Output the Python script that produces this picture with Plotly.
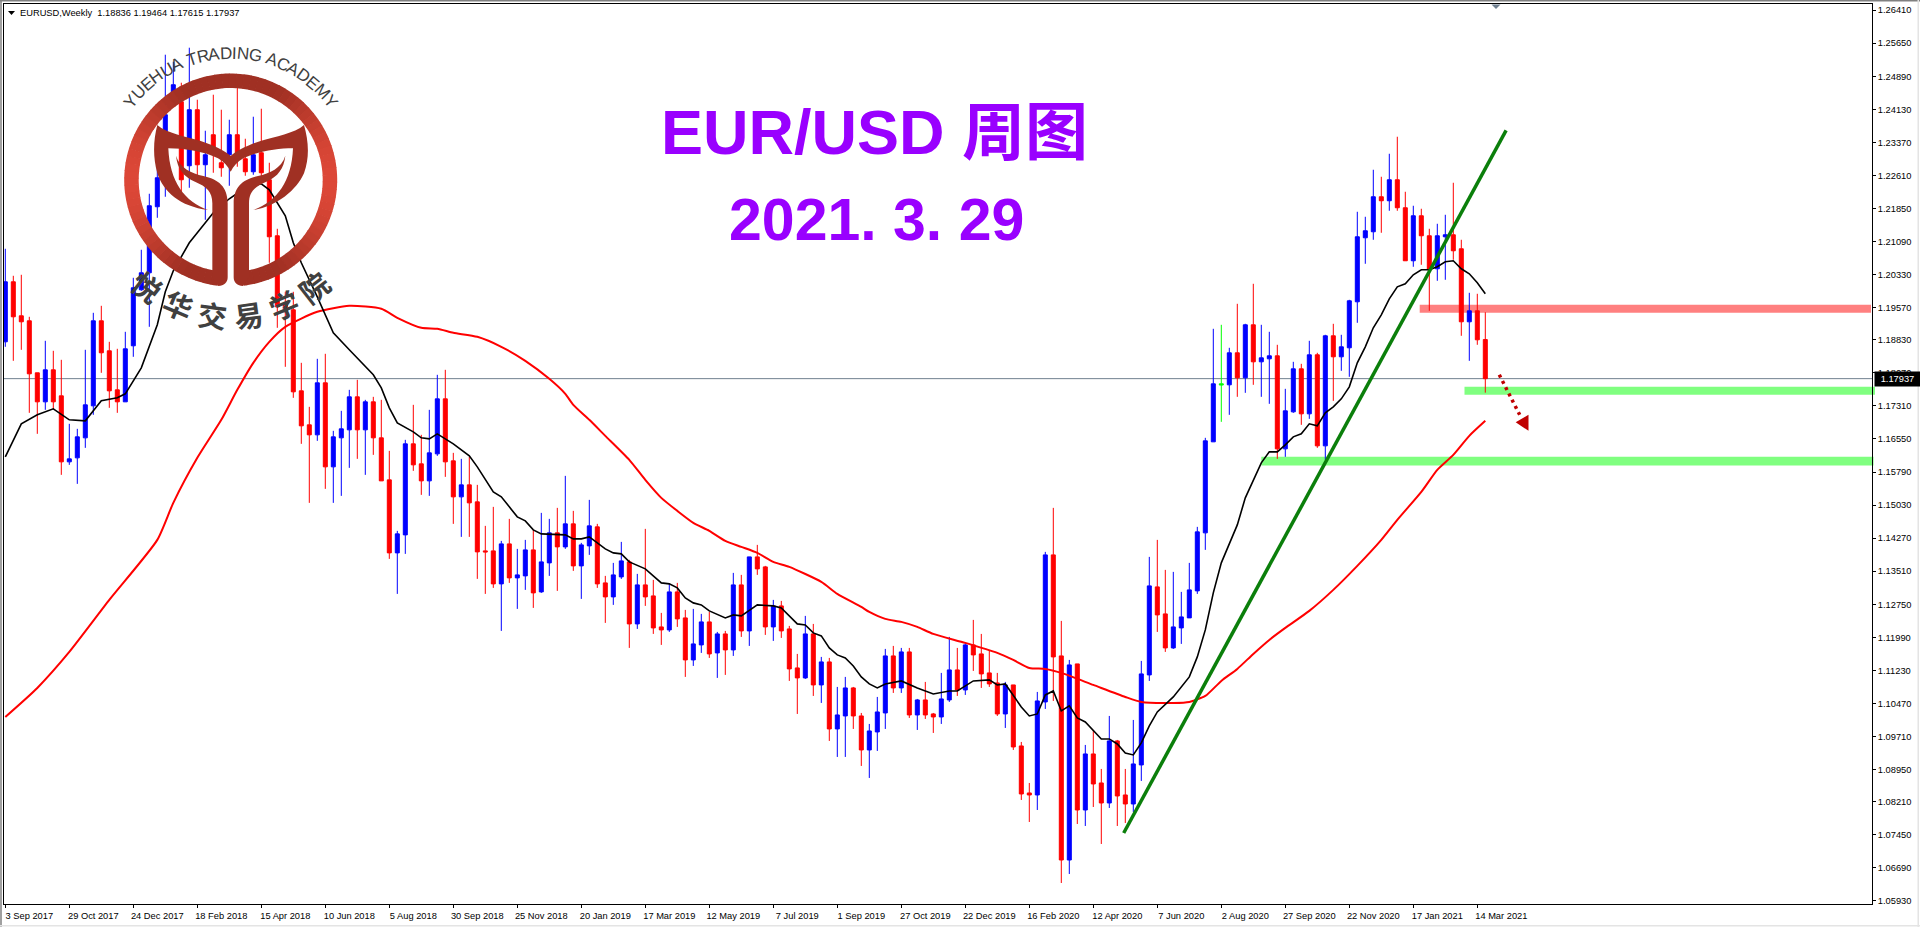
import math
import plotly.graph_objects as go

tick_dates = ["3 Sep 2017","29 Oct 2017","24 Dec 2017","18 Feb 2018","15 Apr 2018","10 Jun 2018","5 Aug 2018","30 Sep 2018",
              "25 Nov 2018","20 Jan 2019","17 Mar 2019","12 May 2019","7 Jul 2019","1 Sep 2019","27 Oct 2019","22 Dec 2019",
              "16 Feb 2020","12 Apr 2020","7 Jun 2020","2 Aug 2020","27 Sep 2020","22 Nov 2020","17 Jan 2021","14 Mar 2021"]
tick_prices = [1.26410,1.25650,1.24890,1.24130,1.23370,1.22610,1.21850,1.21090,1.20330,1.19570,1.18830,1.18070,1.17310,1.16550,
               1.15790,1.15030,1.14270,1.13510,1.12750,1.11990,1.11230,1.10470,1.09710,1.08950,1.08210,1.07450,1.06690,1.05930]

opens = [1.18784,1.20164,1.19382,1.19267,1.18071,1.17404,1.18140,1.17542,1.16024,1.16116,
 1.16576,1.17312,1.19267,1.18577,1.17680,1.17404,1.18692,1.19980,1.20371,1.21889,
 1.22556,1.24396,1.24304,1.22832,1.24120,1.22855,1.23545,1.22901,1.23085,1.23545,
 1.22993,1.22694,1.23131,1.22510,1.21222,1.19635,1.19520,1.17657,1.16875,1.16645,
 1.17841,1.15909,1.16576,1.16760,1.17519,1.16760,1.17404,1.16576,1.15610,1.13931,
 1.14345,1.16438,1.15978,1.15587,1.16208,1.17473,1.16047,1.15219,1.15495,1.15104,
 1.13977,1.13977,1.13218,1.14138,1.13356,1.13402,1.14000,1.13034,1.13701,1.14391,
 1.14069,1.14598,1.13632,1.14092,1.14529,1.13241,1.12919,1.13379,1.13724,1.12298,
 1.13195,1.12942,1.12229,1.12160,1.13034,1.12436,1.11470,1.11815,1.12344,1.11631,
 1.12068,1.11700,1.13195,1.12137,1.13839,1.13609,1.12229,1.12712,1.12183,1.11286,
 1.11056,1.12068,1.10895,1.11424,1.09883,1.10182,1.10826,1.10182,1.09400,1.09814,
 1.10251,1.11562,1.10826,1.11654,1.10205,1.10550,1.10228,1.10159,1.10550,1.11240,
 1.10780,1.11815,1.11608,1.11171,1.10941,1.10228,1.10895,1.09492,1.08411,1.08365,
 1.10504,1.13885,1.11562,1.06870,1.11378,1.08020,1.09308,1.08641,1.08181,1.09607,
 1.08365,1.08158,1.09055,1.11125,1.13149,1.12528,1.11746,1.12206,1.12436,1.13057,
 1.14391,1.16484,1.17818,1.17795,1.18531,1.17956,1.19175,1.18324,1.18393,1.18462,
 1.16323,1.17174,1.18163,1.17128,1.18485,1.16392,1.18922,1.18439,1.18646,1.19704,
 1.21176,1.21314,1.22119,1.22027,1.22510,1.21866,1.20647,1.21682,1.21222,1.20463,
 1.21199,1.21245,1.20923,1.19244,1.19497,1.18836]
highs = [1.20923,1.20302,1.20325,1.19359,1.18071,1.18807,1.18577,1.18370,1.16898,1.16783,
 1.18600,1.19451,1.19612,1.18784,1.18623,1.19014,1.20256,1.20900,1.22188,1.22786,
 1.25385,1.25224,1.24741,1.25546,1.24350,1.23637,1.24465,1.24120,1.23890,1.24626,
 1.23453,1.23959,1.24143,1.22901,1.21383,1.19934,1.19934,1.18301,1.17289,1.18393,
 1.18508,1.16737,1.17197,1.17680,1.17910,1.17450,1.17519,1.17450,1.16277,1.14437,
 1.16530,1.17335,1.16645,1.17220,1.18025,1.18140,1.16231,1.16093,1.16139,1.15495,
 1.14552,1.14989,1.14207,1.14713,1.14023,1.14230,1.14460,1.14851,1.14713,1.14966,
 1.15702,1.14897,1.14161,1.15150,1.14598,1.13402,1.13701,1.14184,1.13770,1.13448,
 1.14483,1.13310,1.12551,1.13218,1.13241,1.12620,1.12643,1.12528,1.12574,1.12114,
 1.12137,1.13471,1.13425,1.13839,1.14115,1.13632,1.12850,1.12827,1.12252,1.11608,
 1.12482,1.12298,1.11539,1.11516,1.10849,1.11079,1.10849,1.10251,1.09998,1.10619,
 1.11723,1.11792,1.11746,1.11746,1.10573,1.10964,1.10251,1.11171,1.11999,1.11746,
 1.11861,1.12390,1.12068,1.11700,1.11171,1.10964,1.10895,1.09584,1.08641,1.10734,
 1.13954,1.14966,1.12367,1.11470,1.11378,1.09515,1.09860,1.08963,1.10182,1.09630,
 1.08963,1.10090,1.11447,1.13839,1.14230,1.13540,1.13494,1.13034,1.13701,1.14529,
 1.16576,1.19083,1.19175,1.18646,1.19658,1.19198,1.20118,1.19175,1.19014,1.18715,
 1.17703,1.18324,1.18278,1.18807,1.18531,1.18945,1.19198,1.18945,1.19750,1.21774,
 1.21659,1.22740,1.22579,1.23108,1.23499,1.22234,1.21912,1.21843,1.21383,1.21498,
 1.21705,1.22441,1.21130,1.19911,1.19888,1.19464]
lows = [1.18669,1.18347,1.18600,1.17151,1.16668,1.17220,1.17220,1.15725,1.15955,1.15518,
 1.16346,1.17105,1.18071,1.17266,1.17151,1.17404,1.18439,1.19957,1.19129,1.21636,
 1.22119,1.24350,1.22211,1.22326,1.22510,1.21590,1.22671,1.22579,1.22372,1.22809,
 1.22602,1.22625,1.22464,1.20601,1.19106,1.18209,1.17496,1.16438,1.15081,1.16507,
 1.15403,1.15081,1.15242,1.15886,1.16093,1.15725,1.16185,1.15587,1.13793,1.12988,
 1.13908,1.15817,1.15265,1.15242,1.16162,1.15679,1.14598,1.14299,1.14299,1.13333,
 1.12988,1.13126,1.12137,1.13241,1.12643,1.13080,1.12666,1.13011,1.13402,1.13057,
 1.14023,1.13517,1.12873,1.13885,1.13126,1.12321,1.12735,1.13333,1.11746,1.12183,
 1.12712,1.12068,1.11815,1.12114,1.12229,1.11079,1.11332,1.11631,1.11516,1.11056,
 1.11125,1.11562,1.11999,1.11792,1.13425,1.12045,1.11907,1.11976,1.10987,1.10228,
 1.11033,1.10642,1.10481,1.09607,1.09239,1.09239,1.09883,1.09032,1.08756,1.09377,
 1.09883,1.10711,1.10711,1.10136,1.09860,1.10113,1.09791,1.09998,1.10504,1.10642,
 1.10665,1.11217,1.10826,1.10849,1.10182,1.09906,1.09400,1.08250,1.07744,1.08020,
 1.10343,1.10527,1.06341,1.06548,1.07698,1.07652,1.08089,1.07238,1.08066,1.07652,
 1.07721,1.07974,1.08687,1.10987,1.12114,1.11654,1.11723,1.11838,1.12436,1.12988,
 1.14000,1.16484,1.16944,1.17105,1.17519,1.17611,1.17795,1.17519,1.17358,1.16093,
 1.16139,1.17151,1.16875,1.17013,1.16346,1.16070,1.17427,1.18117,1.17979,1.19221,
 1.20578,1.21130,1.21291,1.21797,1.21797,1.20647,1.20509,1.20555,1.19497,1.20187,
 1.20210,1.20670,1.18922,1.18347,1.18715,1.17615]
closes = [1.20164,1.19359,1.19244,1.18048,1.17404,1.18140,1.17404,1.16024,1.16093,1.16599,
 1.17335,1.19267,1.18531,1.17657,1.17404,1.18623,1.20026,1.20371,1.21912,1.22556,
 1.24005,1.24695,1.22510,1.24120,1.22855,1.23085,1.23200,1.22786,1.23545,1.23039,
 1.22694,1.23085,1.22671,1.21199,1.19589,1.19474,1.17634,1.16852,1.16645,1.17841,
 1.15909,1.16599,1.16783,1.17519,1.16760,1.17404,1.16576,1.15587,1.13931,1.14368,
 1.16438,1.15955,1.15587,1.16231,1.17473,1.16024,1.15219,1.15495,1.15081,1.13954,
 1.13954,1.13218,1.14138,1.13356,1.13425,1.14000,1.13011,1.13724,1.14391,1.14069,
 1.14598,1.13632,1.14115,1.14552,1.13218,1.12919,1.13425,1.13747,1.12298,1.13195,
 1.12919,1.12206,1.12160,1.13034,1.12413,1.11470,1.11838,1.12344,1.11608,1.12068,
 1.11700,1.13195,1.12137,1.13839,1.13563,1.12229,1.12712,1.12137,1.11263,1.11056,
 1.12068,1.10895,1.11424,1.09883,1.10205,1.10826,1.10182,1.09400,1.09837,1.10274,
 1.11562,1.10826,1.11654,1.10205,1.10550,1.10205,1.10159,1.10573,1.11240,1.10780,
 1.11815,1.11585,1.11148,1.10918,1.10228,1.10895,1.09469,1.08388,1.08365,1.10527,
 1.13885,1.11539,1.06870,1.11355,1.08020,1.09308,1.08618,1.08181,1.09607,1.08342,
 1.08158,1.09078,1.11148,1.13172,1.12505,1.11746,1.12229,1.12459,1.13080,1.14414,
 1.16507,1.17818,1.17795,1.18531,1.17956,1.19175,1.18324,1.18416,1.18462,1.16323,
 1.17197,1.18163,1.17128,1.18485,1.16392,1.18922,1.18439,1.18669,1.19727,1.21199,
 1.21337,1.22119,1.22027,1.22510,1.21866,1.20647,1.21682,1.21222,1.20440,1.21222,
 1.21245,1.20877,1.19244,1.19497,1.18830,1.17937]

doji_index = 152   # drawn lime, as the platform does for open == close bars

ma_fast_x = [0,2,4,6,8,10,12,14,15,17,19,20,21,23,26,28,30,32,33,35,36,37,39,41,43,45,46,47,48,49,51,52,53,54,56,58,59,61,62,63,64,65,66,67,70,71,72,73,74,75,76,77,78,80,82,83,84,85,86,87,88,90,91,92,94,96,97,99,100,101,102,103,104,105,106,107,108,109,110,112,114,116,118,119,121,123,124,125,127,128,129,130,131,132,133,134,135,137,138,139,140,141,142,143,144,146,148,149,150,151,152,153,154,155,156,157,158,159,160,161,162,163,164,165,166,167,168,169,170,171,172,173,174,175,176,177,178,179,180,181,182,183,184,185]
ma_fast_y = [1.16139,1.16898,1.17105,1.17243,1.16990,1.16967,1.17427,1.17496,1.17588,1.18186,1.19175,1.19934,1.20417,1.21061,1.21751,1.22073,1.22326,1.22418,1.22280,1.21682,1.21061,1.20601,1.19819,1.18991,1.18600,1.18209,1.18025,1.17726,1.17266,1.16921,1.16714,1.16576,1.16553,1.16668,1.16438,1.16162,1.15909,1.15334,1.15219,1.14989,1.14759,1.14667,1.14460,1.14368,1.14345,1.14253,1.14253,1.14299,1.14161,1.14023,1.13931,1.13908,1.13724,1.13563,1.13241,1.13218,1.13126,1.12896,1.12781,1.12735,1.12597,1.12436,1.12505,1.12482,1.12735,1.12712,1.12666,1.12298,1.12275,1.12091,1.12022,1.11746,1.11585,1.11516,1.11332,1.11079,1.10918,1.10826,1.10918,1.10987,1.10826,1.10688,1.10757,1.10757,1.10987,1.11010,1.10895,1.10918,1.10389,1.10182,1.10228,1.10665,1.10757,1.10297,1.10412,1.10136,1.10044,1.09653,1.09653,1.09538,1.09331,1.09285,1.09561,1.09952,1.10274,1.10619,1.11079,1.11539,1.12160,1.13011,1.13701,1.14161,1.14575,1.15196,1.15610,1.16001,1.16254,1.16254,1.16415,1.16599,1.16668,1.16898,1.16852,1.17151,1.17289,1.17473,1.17749,1.18301,1.18669,1.19106,1.19405,1.19773,1.20049,1.20118,1.20325,1.20440,1.20440,1.20509,1.20624,1.20647,1.20463,1.20348,1.20141,1.19888]

ma_slow_x = [0,4,8,13,19,21,24,27,29,31,33,35,39,43,47,49,52,54,56,59,62,65,68,70,71,73,75,78,80,82,84,86,88,90,92,94,96,98,102,104,107,108,110,112,114,116,120,124,126,128,130,132,136,140,142,146,148,150,152,154,156,158,160,163,166,169,172,174,177,179,181,183,185]
ma_slow_y = [1.10159,1.10826,1.11654,1.12850,1.14230,1.15081,1.16116,1.16990,1.17680,1.18301,1.18784,1.19129,1.19474,1.19612,1.19543,1.19336,1.19106,1.19083,1.18991,1.18899,1.18669,1.18347,1.17933,1.17588,1.17335,1.16990,1.16622,1.16070,1.15610,1.15196,1.14897,1.14621,1.14437,1.14207,1.14069,1.13931,1.13724,1.13609,1.13264,1.12988,1.12689,1.12574,1.12413,1.12344,1.12229,1.12068,1.11861,1.11631,1.11470,1.11286,1.11263,1.11171,1.10895,1.10619,1.10504,1.10481,1.10504,1.10642,1.10987,1.11263,1.11608,1.11930,1.12206,1.12597,1.13080,1.13632,1.14230,1.14690,1.15334,1.15840,1.16185,1.16622,1.16967]

trend_x = [139.8, 187.6]
trend_y = [1.07491, 1.23644]
arrow_x = [186.75, 189.3]
arrow_y = [1.18025, 1.17105]
arrow_head_x = [188.8, 190.4, 190.4, 188.8]
arrow_head_y = [1.16937, 1.17105, 1.16737, 1.16937]
resistance_band = (176.8, 1.19635, 1.19451)
support_band_upper = (182.4, 1.17749, 1.17565)
support_band_lower = (157.0, 1.16139, 1.15940)

title_line1 = "EUR/USD 周图"
title_line2 = "2021. 3. 29"
header = "EURUSD,Weekly  1.18836 1.19464 1.17615 1.17937"
logo_en = "YUEHUA TRADING ACADEMY"
logo_cn = "悦华交易学院"

W, H = 1920, 927
L, R, T, B = 4, 1872, 4, 904
def fx(px): return (px - L) / (R - L)
def fy(py): return 1 - (py - T) / (B - T)

idx = list(range(len(opens)))
keep = [i for i in idx if i != doji_index]
fig = go.Figure()
fig.add_trace(go.Candlestick(
    x=keep, open=[opens[i] for i in keep], high=[highs[i] for i in keep],
    low=[lows[i] for i in keep], close=[closes[i] for i in keep],
    whiskerwidth=0,
    increasing=dict(line=dict(color="#0000FF", width=1), fillcolor="#0000FF"),
    decreasing=dict(line=dict(color="#FF0000", width=1), fillcolor="#FF0000"),
    showlegend=False, hoverinfo="skip"))
fig.add_trace(go.Candlestick(
    x=[doji_index], open=[opens[doji_index]], high=[highs[doji_index]],
    low=[lows[doji_index]], close=[closes[doji_index]], whiskerwidth=0,
    increasing=dict(line=dict(color="#00FF00", width=1), fillcolor="#00FF00"),
    decreasing=dict(line=dict(color="#00FF00", width=1), fillcolor="#00FF00"),
    showlegend=False, hoverinfo="skip"))
fig.add_trace(go.Scatter(x=ma_slow_x, y=ma_slow_y, mode="lines", line=dict(color="#FF0000", width=2, shape="spline", smoothing=0.6), showlegend=False, hoverinfo="skip"))
fig.add_trace(go.Scatter(x=ma_fast_x, y=ma_fast_y, mode="lines", line=dict(color="#000000", width=1.6), showlegend=False, hoverinfo="skip"))
fig.add_trace(go.Scatter(x=trend_x, y=trend_y, mode="lines", line=dict(color="#0B7F0B", width=3.5), showlegend=False, hoverinfo="skip"))
fig.add_trace(go.Scatter(x=arrow_x, y=arrow_y, mode="lines", line=dict(color="#C00000", width=3.5, dash="3px,4px"), showlegend=False, hoverinfo="skip"))
fig.add_trace(go.Scatter(x=arrow_head_x, y=arrow_head_y, mode="lines", fill="toself", fillcolor="#C00000", line=dict(color="#C00000", width=0), showlegend=False, hoverinfo="skip"))

shapes = []
def nx(n): return fx(5.3 + 8 * n)
for band, col, right in [(resistance_band, "#FF8080", 1871), (support_band_upper, "#80FF80", 1875), (support_band_lower, "#80FF80", 1873.5)]:
    shapes.append(dict(type="rect", xref="paper", yref="y", x0=nx(band[0]), x1=fx(right), y0=band[2], y1=band[1],
                       fillcolor=col, line=dict(width=0), layer="below"))
shapes.append(dict(type="line", xref="paper", yref="y", x0=0, x1=1, y0=closes[-1], y1=closes[-1],
                   line=dict(color="#708090", width=1), layer="below"))

# window chrome
for x0, y0, x1, y1, c in [(0, 0, 2, 927, "#A0A0A0"), (0, 0, 1920, 1.5, "#808080"), (1917.5, 0, 1919, 927, "#E4E4E4"), (0, 925, 1920, 926.5, "#E4E4E4")]:
    shapes.append(dict(type="rect", xref="paper", yref="paper", x0=fx(x0), x1=fx(x1), y0=fy(y0), y1=fy(y1), fillcolor=c, line=dict(width=0), layer="above"))
# platform markers
def poly(pts):
    return "M " + " L ".join(f"{fx(a):.5f},{fy(b):.5f}" for a, b in pts) + " Z"
shapes.append(dict(type="path", xref="paper", yref="paper", path=poly([(8, 11), (15, 11), (11.5, 15)]), fillcolor="#000000", line=dict(width=0), layer="above"))
shapes.append(dict(type="path", xref="paper", yref="paper", path=poly([(1491.5, 4.5), (1500.5, 4.5), (1496, 9)]), fillcolor="#708090", line=dict(width=0), layer="above"))

# logo ring: sectors measured clockwise from the bottom, leaving the gap between the stems
CX, CY, RO, RI = 230.7, 180.0, 106.5, 92.0
base, edge = (160, 48, 35), (220, 71, 55)
step = 4
for a in range(7, 353, step):
    t0, t1 = math.radians(a), math.radians(min(a + step + 0.4, 353))
    pts = []
    for th, r in [(t0, RO), ((t0 + t1) / 2, RO), (t1, RO), (t1, RI), ((t0 + t1) / 2, RI), (t0, RI)]:
        pts.append((CX - r * math.sin(th), CY + r * math.cos(th)))
    mid = (t0 + t1) / 2
    t = abs(math.sin(mid))
    f = max(0.0, (t - 0.45) / 0.55) ** 1.3
    col = tuple(round(base[i] + (edge[i] - base[i]) * f) for i in range(3))
    shapes.append(dict(type="path", xref="paper", yref="paper", path=poly(pts), fillcolor=f"rgb{col}", line=dict(width=0), layer="above"))

def zp(x, y, mirror=False):
    if mirror:
        x = 784 - x
    return f"{fx(100 + x / 3):.5f},{fy(40 + y / 3):.5f}"
def curve(cmds, mirror=False):
    out = []
    for c in cmds:
        out.append(c[0] + " " + " ".join(zp(c[i], c[i + 1], mirror) for i in range(1, len(c), 2)))
    return " ".join(out) + " Z"

wing = [("M",172,255),("C",200,280,260,290,300,302),("C",340,315,375,332,392,348),("C",409,332,444,315,484,302),
        ("C",524,290,584,280,612,255),("C",625,300,630,350,612,400),("C",590,450,530,500,460,510),
        ("C",530,485,575,425,579,325),("C",530,325,470,335,430,355),("C",412,365,400,380,392,395),
        ("C",384,380,372,365,354,355),("C",314,335,254,325,205,325),("C",209,425,254,485,324,510),
        ("C",240,500,190,455,172,400),("C",158,350,160,300,172,255)]
stem = [("M",228,347),("C",240,385,275,400,310,408),("C",355,418,383,440,383,490),("L",383,712),
        ("C",383,728,372,738,355,738),("L",337,712),("L",337,490),("C",337,455,320,440,285,425),("C",250,410,232,385,228,347)]
logo_col = "rgb(160,48,35)"
shapes.append(dict(type="path", xref="paper", yref="paper", path=curve(wing), fillcolor=logo_col, line=dict(width=0), layer="above"))
shapes.append(dict(type="path", xref="paper", yref="paper", path=curve(stem), fillcolor=logo_col, line=dict(width=0), layer="above"))
shapes.append(dict(type="path", xref="paper", yref="paper", path=curve(stem, True), fillcolor=logo_col, line=dict(width=0), layer="above"))

ann = []
def text(px, py, s, size, color, family="Liberation Sans", angle=0, anchor="center", bold=False):
    if bold:
        s = f"<b>{s}</b>"
    ann.append(dict(xref="paper", yref="paper", x=fx(px), y=fy(py), text=s, showarrow=False, xanchor=anchor, yanchor="middle",
                    textangle=angle, font=dict(size=size, color=color, family=family), borderpad=0, borderwidth=0))

text(874, 132, title_line1, 63, "#9900FF", "Liberation Sans, Noto Sans CJK SC", bold=True)
text(876, 220, title_line2, 59, "#9900FF", "Liberation Sans", bold=True)
text(20, 12.5, header.replace("  ", "&nbsp;&nbsp;"), 9.3, "#000000", anchor="left")

w = dict(zip("YUEHA TRDINGCM", [.667,.722,.667,.722,.667,.278,.611,.722,.722,.278,.722,.778,.722,.833]))
size_en = 17
R_EN = 127.0
widths = [w[c] * size_en for c in logo_en]
total = sum(widths)
pos = 0.0
for c, wd in zip(logo_en, widths):
    th = (pos + wd / 2 - total / 2) / R_EN
    pos += wd
    if c != " ":
        text(CX + R_EN * math.sin(th), CY - R_EN * math.cos(th), c, size_en, "#404040", angle=math.degrees(th))
for i, c in enumerate(logo_cn):
    a = 38 - 15.2 * i
    th = math.radians(a)
    text(CX - 135 * math.sin(th), CY + 135 * math.cos(th), c, 29, "#404040", "Noto Sans CJK SC", angle=a, bold=True)

ann.append(dict(xref="paper", yref="y", x=1, y=closes[-1], xshift=2, xanchor="left", yanchor="middle", text=f"{closes[-1]:.5f}",
                showarrow=False, bgcolor="#000000", font=dict(size=9.3, color="#FFFFFF", family="Liberation Sans"), borderpad=2, width=41, align="center"))

fig.update_layout(
    width=W, height=H, margin=dict(l=L, r=W - R, t=T, b=H - B), paper_bgcolor="#FFFFFF", plot_bgcolor="#FFFFFF",
    showlegend=False, boxgap=0.5, boxgroupgap=0, boxmode="overlay", shapes=shapes, annotations=ann,
    xaxis=dict(range=[(L - 5.3) / 8, (R - 5.3) / 8], rangeslider=dict(visible=False), showgrid=False, zeroline=False,
               tickvals=[8 * i for i in range(len(tick_dates))], ticktext=tick_dates, ticks="outside", ticklen=3, tickwidth=1,
               tickcolor="#000000", showline=True, linecolor="#000000", linewidth=1, mirror=True, ticklabelshift=24,
               tickfont=dict(size=9.3, color="#000000", family="Liberation Sans"), tickangle=0),
    yaxis=dict(range=[1.05858, 1.26551], side="right", showgrid=False, zeroline=False, tickvals=tick_prices,
               ticktext=[f"{p:.5f}" for p in tick_prices], ticks="outside", ticklen=3, tickwidth=1, tickcolor="#000000",
               showline=True, linecolor="#000000", linewidth=1, mirror=True,
               tickfont=dict(size=9.3, color="#000000", family="Liberation Sans")),
)
fig.write_html("out.html", config={"displayModeBar": False},
               post_script="document.body.style.margin='0';document.body.style.overflow='hidden';")
